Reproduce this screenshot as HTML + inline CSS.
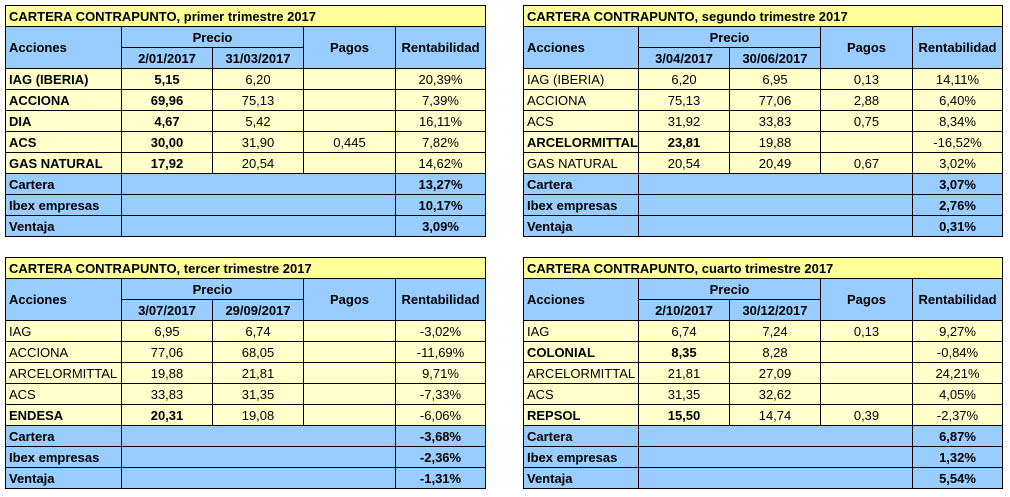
<!DOCTYPE html>
<html><head><meta charset="utf-8"><style>
body{margin:0;width:1010px;height:497px;background:#fff;font-family:"Liberation Sans",Arial,sans-serif;font-size:13px;position:relative;overflow:hidden}
table{position:absolute;border-collapse:collapse;table-layout:fixed}
td{border:1px solid #000;height:20px;padding:0 3px;text-align:center;white-space:nowrap;overflow:hidden;line-height:19px}
.t td{background:#FFFF99;font-weight:bold;text-align:left}
.h td{background:#99CCFF;font-weight:bold}
.h td.l{text-align:left}
.d td{background:#FFFFCC}
.d td:first-child{text-align:left}
.s td{background:#99CCFF;font-weight:bold}
.s td:first-child{text-align:left}
.b{font-weight:bold}
</style></head><body>

<table style="left:5px;top:5px;width:480px">
<colgroup><col style="width:116px"><col style="width:91px"><col style="width:91px"><col style="width:92px"><col style="width:90px"></colgroup>
<tr class="t"><td colspan="5">CARTERA CONTRAPUNTO, primer trimestre 2017</td></tr>
<tr class="h"><td rowspan="2" class="l">Acciones</td><td colspan="2">Precio</td><td rowspan="2">Pagos</td><td rowspan="2">Rentabilidad</td></tr>
<tr class="h"><td>2/01/2017</td><td>31/03/2017</td></tr>
<tr class="d"><td class="b">IAG (IBERIA)</td><td class="b">5,15</td><td>6,20</td><td></td><td>20,39%</td></tr>
<tr class="d"><td class="b">ACCIONA</td><td class="b">69,96</td><td>75,13</td><td></td><td>7,39%</td></tr>
<tr class="d"><td class="b">DIA</td><td class="b">4,67</td><td>5,42</td><td></td><td>16,11%</td></tr>
<tr class="d"><td class="b">ACS</td><td class="b">30,00</td><td>31,90</td><td>0,445</td><td>7,82%</td></tr>
<tr class="d"><td class="b">GAS NATURAL</td><td class="b">17,92</td><td>20,54</td><td></td><td>14,62%</td></tr>
<tr class="s"><td>Cartera</td><td colspan="3"></td><td>13,27%</td></tr>
<tr class="s"><td>Ibex empresas</td><td colspan="3"></td><td>10,17%</td></tr>
<tr class="s"><td>Ventaja</td><td colspan="3"></td><td>3,09%</td></tr>
</table>

<table style="left:523px;top:5px;width:479px">
<colgroup><col style="width:115px"><col style="width:91px"><col style="width:91px"><col style="width:92px"><col style="width:90px"></colgroup>
<tr class="t"><td colspan="5">CARTERA CONTRAPUNTO, segundo trimestre 2017</td></tr>
<tr class="h"><td rowspan="2" class="l">Acciones</td><td colspan="2">Precio</td><td rowspan="2">Pagos</td><td rowspan="2">Rentabilidad</td></tr>
<tr class="h"><td>3/04/2017</td><td>30/06/2017</td></tr>
<tr class="d"><td>IAG (IBERIA)</td><td>6,20</td><td>6,95</td><td>0,13</td><td>14,11%</td></tr>
<tr class="d"><td>ACCIONA</td><td>75,13</td><td>77,06</td><td>2,88</td><td>6,40%</td></tr>
<tr class="d"><td>ACS</td><td>31,92</td><td>33,83</td><td>0,75</td><td>8,34%</td></tr>
<tr class="d"><td class="b">ARCELORMITTAL</td><td class="b">23,81</td><td>19,88</td><td></td><td>-16,52%</td></tr>
<tr class="d"><td>GAS NATURAL</td><td>20,54</td><td>20,49</td><td>0,67</td><td>3,02%</td></tr>
<tr class="s"><td>Cartera</td><td colspan="3"></td><td>3,07%</td></tr>
<tr class="s"><td>Ibex empresas</td><td colspan="3"></td><td>2,76%</td></tr>
<tr class="s"><td>Ventaja</td><td colspan="3"></td><td>0,31%</td></tr>
</table>

<table style="left:5px;top:257px;width:480px">
<colgroup><col style="width:116px"><col style="width:91px"><col style="width:91px"><col style="width:92px"><col style="width:90px"></colgroup>
<tr class="t"><td colspan="5">CARTERA CONTRAPUNTO, tercer trimestre 2017</td></tr>
<tr class="h"><td rowspan="2" class="l">Acciones</td><td colspan="2">Precio</td><td rowspan="2">Pagos</td><td rowspan="2">Rentabilidad</td></tr>
<tr class="h"><td>3/07/2017</td><td>29/09/2017</td></tr>
<tr class="d"><td>IAG</td><td>6,95</td><td>6,74</td><td></td><td>-3,02%</td></tr>
<tr class="d"><td>ACCIONA</td><td>77,06</td><td>68,05</td><td></td><td>-11,69%</td></tr>
<tr class="d"><td>ARCELORMITTAL</td><td>19,88</td><td>21,81</td><td></td><td>9,71%</td></tr>
<tr class="d"><td>ACS</td><td>33,83</td><td>31,35</td><td></td><td>-7,33%</td></tr>
<tr class="d"><td class="b">ENDESA</td><td class="b">20,31</td><td>19,08</td><td></td><td>-6,06%</td></tr>
<tr class="s"><td>Cartera</td><td colspan="3"></td><td>-3,68%</td></tr>
<tr class="s"><td>Ibex empresas</td><td colspan="3"></td><td>-2,36%</td></tr>
<tr class="s"><td>Ventaja</td><td colspan="3"></td><td>-1,31%</td></tr>
</table>

<table style="left:523px;top:257px;width:479px">
<colgroup><col style="width:115px"><col style="width:91px"><col style="width:91px"><col style="width:92px"><col style="width:90px"></colgroup>
<tr class="t"><td colspan="5">CARTERA CONTRAPUNTO, cuarto trimestre 2017</td></tr>
<tr class="h"><td rowspan="2" class="l">Acciones</td><td colspan="2">Precio</td><td rowspan="2">Pagos</td><td rowspan="2">Rentabilidad</td></tr>
<tr class="h"><td>2/10/2017</td><td>30/12/2017</td></tr>
<tr class="d"><td>IAG</td><td>6,74</td><td>7,24</td><td>0,13</td><td>9,27%</td></tr>
<tr class="d"><td class="b">COLONIAL</td><td class="b">8,35</td><td>8,28</td><td></td><td>-0,84%</td></tr>
<tr class="d"><td>ARCELORMITTAL</td><td>21,81</td><td>27,09</td><td></td><td>24,21%</td></tr>
<tr class="d"><td>ACS</td><td>31,35</td><td>32,62</td><td></td><td>4,05%</td></tr>
<tr class="d"><td class="b">REPSOL</td><td class="b">15,50</td><td>14,74</td><td>0,39</td><td>-2,37%</td></tr>
<tr class="s"><td>Cartera</td><td colspan="3"></td><td>6,87%</td></tr>
<tr class="s"><td>Ibex empresas</td><td colspan="3"></td><td>1,32%</td></tr>
<tr class="s"><td>Ventaja</td><td colspan="3"></td><td>5,54%</td></tr>
</table>
</body></html>
